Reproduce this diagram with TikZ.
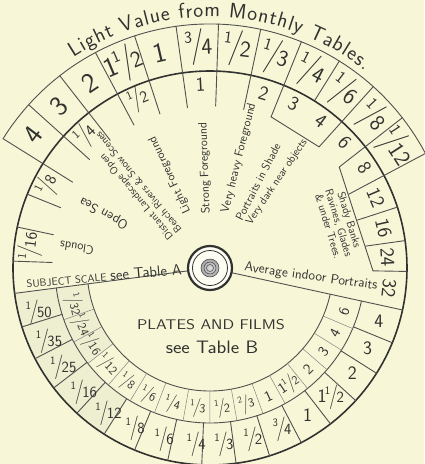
\documentclass[tikz,border=0pt]{standalone}
\usepackage{fontspec}
\usetikzlibrary{decorations.text}

\definecolor{paper}{RGB}{247,247,216}
\definecolor{ink}{RGB}{50,50,48}

% small raised numerator, long slash, denominator
\newcommand{\fr}[2]{\raisebox{.42em}{\scalebox{.6}{#1}}\kern-.06em\raisebox{-.06em}{\scalebox{1}[1.3]{/}}\kern-.08em\scalebox{.82}{#2}}

\begin{document}
\begin{tikzpicture}[x=1pt, y=1pt, line cap=round,
    rim/.style={draw=ink, line width=1.6pt},
    cell/.style={draw=ink!85, line width=0.9pt},
    tick/.style={draw=ink!60, line width=0.5pt},
    lightnum/.style={text=ink, inner sep=0pt, font=\sffamily\fontsize{28}{30}\selectfont},
    subjnum/.style={text=ink, inner sep=0pt, font=\sffamily\fontsize{20}{22}\selectfont},
    expnum/.style={text=ink, inner sep=0pt, font=\sffamily\fontsize{19}{21}\selectfont},
    platenum/.style={text=ink, inner sep=0pt, font=\sffamily\fontsize{15}{17}\selectfont},
    subj/.style={text=ink, inner sep=0pt, font=\sffamily\fontsize{12}{12}\selectfont}]

    % ==========================================
    % PAPER
    % ==========================================

    \fill[paper] (-210,-196) rectangle (214,268);
    \useasboundingbox (-210,-196) rectangle (214,268);

    \coordinate (hub) at (0,0); % pivot of the dial

    % worn, greyish patch of the scan
    \fill[gray, opacity=.07] (187.4:123) -- (187.4:197) arc[start angle=187.4, end angle=237.5, radius=197]
        -- (237.5:155) arc[start angle=237.5, end angle=218, radius=155] -- (218:123)
        arc[start angle=218, end angle=187.4, radius=123] -- cycle;

    % ==========================================
    % TOP RING: Light Value
    % ==========================================

    \draw[cell] (28:244) arc[start angle=28, end angle=148, radius=244];
    \draw[cell] (148:197) -- (148:244) (138:197) -- (138:244) (128:197) -- (128:244)
                (118:197) -- (118:244) (108:197) -- (108:244) (98:197) -- (98:244)
                (88:197) -- (88:244) (78:197) -- (78:244) (68:197) -- (68:244)
                (58:197) -- (58:244) (48:197) -- (48:244) (38:197) -- (38:244)
                (28:197) -- (28:244);

    \node[lightnum, rotate=53]  (lv1)  at (143:221) {4};
    \node[lightnum, rotate=43]  (lv2)  at (133:221) {3};
    \node[lightnum, rotate=33]  (lv3)  at (123:221) {2};
    \node[lightnum, rotate=23]  (lv4)  at (113:221) {1\kern-.08em\fr{1}{2}};
    \node[lightnum, rotate=13]  (lv5)  at (103:221) {1};
    \node[lightnum, rotate=3]   (lv6)  at (93:221)  {\fr{3}{4}};
    \node[lightnum, rotate=-7]  (lv7)  at (83:221)  {\fr{1}{2}};
    \node[lightnum, rotate=-17] (lv8)  at (73:221)  {\fr{1}{3}};
    \node[lightnum, rotate=-27] (lv9)  at (63:221)  {\fr{1}{4}};
    \node[lightnum, rotate=-37] (lv10) at (53:221)  {\fr{1}{6}};
    \node[lightnum, rotate=-47] (lv11) at (43:221)  {\fr{1}{8}};
    \node[lightnum, rotate=-57] (lv12) at (33:221)  {\fr{1}{12}};

    % title round the top
    \path[decorate, decoration={text along path, text align=fit to path,
          text={|\sffamily\fontsize{21}{23}\selectfont\color{ink}|Light Value from Monthly Tables.}}]
          (123:251) arc[start angle=123, end angle=52, radius=251];

    % ==========================================
    % MAIN DISC
    % ==========================================

    \draw[rim] (hub) circle (197);

    % Subject scale divisions
    \draw[cell] (178:158) -- (178:197) (168:160) -- (168:197) (158:161) -- (158:197)
                (148:162) -- (148:197) (138:162) -- (138:197) (128:162) -- (128:197)
                (118:162) -- (118:197) (108:162) -- (108:197) (98:162) -- (98:197)
                (88:162) -- (88:197) (78:162) -- (78:197);

    % box round 3 and 4
    \draw[cell] (68:197) -- (68:163) -- (48:163) -- (48:197);
    % box round 8 to 24
    \draw[cell] (38:197) -- (38:164) -- (-1:163) -- (-1:197);
    \draw[cell] (28:157) -- (28:197) (18:155) -- (18:197) (8:157) -- (8:197);

    % Edges of the lower sector
    \draw[cell] (187.4:22) -- (187.4:197);
    \draw[cell] (-12.3:22) -- (-12.3:197);
    \draw[cell] (187.4:155) arc[start angle=187.4, end angle=347.7, radius=155];
    \draw[cell] (187.4:123) arc[start angle=187.4, end angle=347.7, radius=123];

    % Exposure scale divisions
    \draw[cell] (197.4:155) -- (197.4:197) (207.4:155) -- (207.4:197) (217.5:155) -- (217.5:197)
                (227.5:155) -- (227.5:197) (237.5:155) -- (237.5:197) (247.5:155) -- (247.5:197)
                (257.6:155) -- (257.6:197) (267.6:155) -- (267.6:197) (277.6:155) -- (277.6:197)
                (287.6:155) -- (287.6:197) (297.6:155) -- (297.6:197) (307.7:155) -- (307.7:197)
                (317.7:155) -- (317.7:197) (327.7:155) -- (327.7:197) (337.7:155) -- (337.7:197);

    % Plate scale divisions
    \draw[tick] (199.5:123) -- (199.5:155) (208.5:123) -- (208.5:155) (218:123) -- (218:155)
                (229:123) -- (229:155) (239:123) -- (239:155) (249:123) -- (249:155)
                (260:123) -- (260:155) (270:123) -- (270:155) (280:123) -- (280:155)
                (290:123) -- (290:155) (299:123) -- (299:155) (309:123) -- (309:155)
                (319:123) -- (319:155) (328:123) -- (328:155) (337:123) -- (337:155);

    % ==========================================
    % SUBJECT SCALE
    % ==========================================

    \node[subjnum, rotate=83]  (sv1)  at (173:181) {\fr{1}{16}};
    \node[subjnum, rotate=63]  (sv2)  at (153:182) {\fr{1}{8}};
    \node[subjnum, rotate=43]  (sv3)  at (133:182) {\fr{1}{4}};
    \node[subjnum, rotate=23]  (sv4)  at (113:183) {\fr{1}{2}};
    \node[subjnum, rotate=3]   (sv5)  at (93:184)  {1};
    \node[subjnum, rotate=-17] (sv6)  at (73:183)  {2};
    \node[subjnum, rotate=-27] (sv7)  at (63:184)  {3};
    \node[subjnum, rotate=-37] (sv8)  at (53:184)  {4};
    \node[subjnum, rotate=-47] (sv9)  at (43:184)  {6};
    \node[subjnum, rotate=-57] (sv10) at (33:184)  {8};
    \node[subjnum, rotate=-67] (sv11) at (23:180)  {12};
    \node[subjnum, rotate=-77] (sv12) at (13:178)  {16};
    \node[subjnum, rotate=-87] (sv13) at (3.5:178) {24};
    \node[subjnum, rotate=-96] (sv14) at (-6.5:180) {32};

    % Subjects
    \node[subj, rotate=172, font=\sffamily\fontsize{12.5}{13}\selectfont] (clouds) at (-133,20) {Clouds};
    \node[subj, rotate=151, font=\sffamily\fontsize{13.5}{14}\selectfont] (opensea) at (-106,55) {Open Sea};
    \node[subj, rotate=130, align=left, font=\sffamily\fontsize{10.5}{11}\selectfont] (distant) at (-76,82)
        {Distant Landscape Open\\Beach Rivers \& Snow Scenes};
    \node[subj, rotate=115] (lightfg) at (-40,93) {Light Foreground};
    \node[subj, rotate=92] (strongfg) at (-5,100) {Strong Foreground};
    \node[subj, rotate=76] (heavyfg) at (29,110) {Very heavy Foreground};
    \node[subj, rotate=62.6, font=\sffamily\fontsize{11.5}{12}\selectfont] (shade) at (48,86) {Portraits in Shade};
    \node[subj, rotate=56, font=\sffamily\fontsize{11}{12}\selectfont] (darknear) at (67,86) {Very dark near objects};
    \node[subj, rotate=-73, align=center, font=\sffamily\fontsize{11}{11}\selectfont] (shady) at (129,45)
        {Shady Banks\\Ravines, Glades\\\& under Trees.};

    % Scale titles along the sector edges
    \node[subj, rotate=5] (subjtitle) at (-106,-8)
        {{\fontsize{10.5}{12}\selectfont SUBJECT SCALE} {\fontsize{15}{16}\selectfont see Table A}};
    \node[subj, rotate=-8, font=\sffamily\fontsize{13.5}{14}\selectfont] (indoor) at (101,-9) {Average indoor Portraits};

    % ==========================================
    % EXPOSURE SCALE (outer, lower)
    % ==========================================

    \node[expnum] (ex1)  at (194.5:177) {\fr{1}{50}};
    \node[expnum] (ex2)  at (204.5:177) {\fr{1}{35}};
    \node[expnum] (ex3)  at (214:177)   {\fr{1}{25}};
    \node[expnum] (ex4)  at (224.5:177) {\fr{1}{16}};
    \node[expnum] (ex5)  at (235:177)   {\fr{1}{12}};
    \node[expnum] (ex6)  at (245:177)   {\fr{1}{8}};
    \node[expnum] (ex7)  at (255:177)   {\fr{1}{6}};
    \node[expnum] (ex8)  at (265.5:177) {\fr{1}{4}};
    \node[expnum] (ex9)  at (274.5:177) {\fr{1}{3}};
    \node[expnum] (ex10) at (284:177)   {\fr{1}{2}};
    \node[expnum] (ex11) at (294:177)   {\fr{3}{4}};
    \node[expnum] (ex12) at (303.5:177) {1};
    \node[expnum] (ex13) at (313:177)   {1\kern-.08em\fr{1}{2}};
    \node[expnum] (ex14) at (323.5:177) {2};
    \node[expnum] (ex15) at (333:177)   {3};
    \node[expnum] (ex16) at (342.5:177) {4};

    % ==========================================
    % PLATE SCALE (inner, lower)
    % ==========================================

    \node[platenum, rotate=-75]   (pl1)  at (195:141)   {\fr{1}{32}};
    \node[platenum, rotate=-66]   (pl2)  at (204:141)   {\fr{1}{24}};
    \node[platenum, rotate=-57]   (pl3)  at (213:141)   {\fr{1}{16}};
    \node[platenum, rotate=-46.5] (pl4)  at (223.5:141) {\fr{1}{12}};
    \node[platenum, rotate=-36]   (pl5)  at (234:141)   {\fr{1}{8}};
    \node[platenum, rotate=-26]   (pl6)  at (244:141)   {\fr{1}{6}};
    \node[platenum, rotate=-15.5] (pl7)  at (254.5:141) {\fr{1}{4}};
    \node[platenum, rotate=-5]    (pl8)  at (265:141)   {\fr{1}{3}};
    \node[platenum, rotate=5]     (pl9)  at (275:141)   {\fr{1}{2}};
    \node[platenum, rotate=15]    (pl10) at (285:141)   {\fr{2}{3}};
    \node[platenum, rotate=24.5]  (pl11) at (294.5:141) {1};
    \node[platenum, rotate=34]    (pl12) at (304:141)   {1\kern-.08em\fr{1}{2}};
    \node[platenum, rotate=44]    (pl13) at (314:141)   {2};
    \node[platenum, rotate=53.5]  (pl14) at (323.5:141) {3};
    \node[platenum, rotate=62.5]  (pl15) at (332.5:141) {4};
    \node[platenum, rotate=72]    (pl16) at (342:141)   {6};

    \node[subj] (plates) at (1,-57) {\scalebox{1.18}[1]{\sffamily\fontsize{14}{16}\selectfont PLATES AND FILMS}};
    \node[subj] (tableb) at (2,-79) {\scalebox{1.12}[1]{\sffamily\fontsize{18}{20}\selectfont see Table B}};

    % ==========================================
    % HUB
    % ==========================================

    \fill[white!70!paper] (hub) circle (22);
    \draw[ink, line width=2.2pt] (hub) circle (22);
    \draw[ink, line width=0.8pt] (hub) circle (17.5);
    \shade[inner color=gray!25, outer color=gray!70] (hub) circle (9);
    \draw[gray!50!black, line width=0.5pt] (hub) circle (9) (hub) circle (6) (hub) circle (3.5);

\end{tikzpicture}
\end{document}
